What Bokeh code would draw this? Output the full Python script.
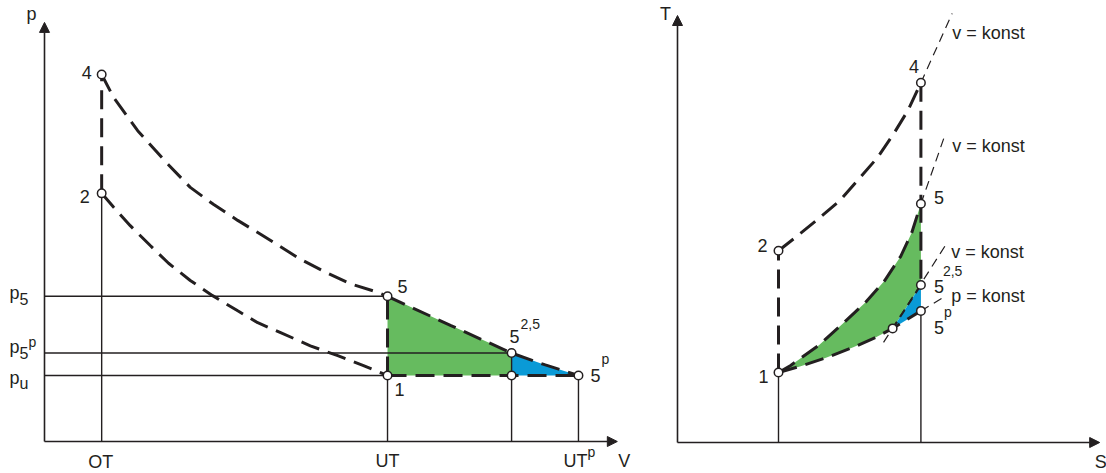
from bokeh.plotting import figure
from bokeh.layouts import row
from bokeh.models import Range1d, Arrow, NormalHead
from bokeh.core.properties import value
from bokeh.embed import file_html
from bokeh.resources import INLINE

INK = "#231f20"
GREEN = "#66bb5f"
BLUE = "#0a9ad6"
FONT = "Liberation Sans"

# ---------------- p-V diagram ----------------
# V in multiples of the clearance volume, p in multiples of the ambient pressure p_u
V_OT, V_UT, V_25, V_UTP = 1.0, 6.0, 8.17, 9.34
p4, p2, p5, p5p, pu = 5.56, 3.76, 2.20, 1.34, 1.0

# expansion 4 -> 5
exp_V = [1.0, 1.21, 1.63, 2.15, 2.55, 2.96, 3.38, 3.78, 4.13, 4.48, 4.95, 5.35, 5.83, 6.0]
exp_p = [5.56, 5.21, 4.71, 4.21, 3.85, 3.59, 3.35, 3.14, 2.95, 2.76, 2.55, 2.39, 2.26, 2.20]
# compression 1 -> 2 (listed from 2 to 1)
cmp_V = [1.0, 1.21, 1.50, 1.85, 2.17, 2.55, 2.94, 3.38, 3.73, 4.13, 4.65, 5.13, 5.58, 6.0]
cmp_p = [3.76, 3.55, 3.27, 2.97, 2.70, 2.44, 2.21, 1.98, 1.80, 1.65, 1.45, 1.30, 1.15, 1.0]
# continued expansion 5 -> 5^2,5 -> 5^p
ext_V = [6.0, 7.10, 8.17, 8.76, 9.34]
ext_p = [2.20, 1.76, 1.34, 1.16, 1.0]

V_axis_end, p_axis_end = 10.02, 6.35

# ---------------- T-S diagram ----------------
S1, S5 = 1.0, 2.41
T1, T2, T4, T5, T25, T5p = 1.0, 2.74, 5.14, 3.41, 2.25, 1.88
S_m, T_m = 2.13, 1.63

c24_S = [1.0, 1.15, 1.39, 1.61, 1.81, 1.98, 2.14, 2.28, 2.41]
c24_T = [2.74, 2.91, 3.19, 3.46, 3.79, 4.07, 4.41, 4.74, 5.14]
c15_S = [1.0, 1.12, 1.40, 1.63, 1.86, 2.05, 2.21, 2.32, 2.41]
c15_T = [1.0, 1.10, 1.39, 1.69, 2.00, 2.31, 2.66, 3.00, 3.41]
c1m_S = [1.0, 1.22, 1.47, 1.74, 1.96, 2.13]
c1m_T = [1.0, 1.09, 1.21, 1.36, 1.50, 1.63]

# guide lines v = konst / p = konst
guide_S = [[2.41, 2.72], [2.41, 2.65], [2.04, 2.65], [2.41, 2.63]]
guide_T = [[5.14, 6.13], [3.41, 4.40], [1.43, 2.81], [1.88, 2.07]]
guide_text = ["v = konst", "v = konst", "v = konst", "p = konst"]
guide_dx = [0, 7, 6, 8]
guide_dy = [20, 11, 6, -2]

S_axis_end, T_axis_end = 4.18, 6.10


def make_fig(width, x0, x1, y0, y1):
    f = figure(width=width, height=473, x_range=Range1d(x0, x1), y_range=Range1d(y0, y1),
               toolbar_location=None, output_backend="svg",
               x_axis_location=None, y_axis_location=None, min_border=0,
               outline_line_color=None, background_fill_color="white",
               border_fill_color="white")
    f.grid.visible = False
    return f


def put(f, x, y, txt, dx, dy, size="18px", align="left"):
    f.text(x=[x], y=[y], text=[txt], x_offset=dx, y_offset=dy,
           text_font=value(FONT), text_font_size=size, text_align=align,
           text_baseline="alphabetic", text_color=INK)


def axis_arrow(f, x1, y1):
    f.add_layout(Arrow(end=NormalHead(size=10, fill_color=INK, line_color=INK, line_width=1),
                       x_start=0, y_start=0, x_end=x1, y_end=y1,
                       line_color=INK, line_width=1.6))


BOLD = dict(line_color=INK, line_width=3, line_dash="19 9")
THIN = dict(line_color=INK, line_width=1.4)
SUP = "14px"

# ======== left: p-V ========
sx, sy = 57.17, 66.0
pv = make_fig(650, -44 / sx, (650 - 44) / sx, -(473 - 441) / sy, 441 / sy)

pv.patch(ext_V[:3] + [V_25, V_UT], ext_p[:3] + [pu, pu], fill_color=GREEN, line_color=None)
pv.patch(ext_V[2:] + [V_25], ext_p[2:] + [pu], fill_color=BLUE, line_color=None)

pv.multi_line(
    xs=[[V_OT, V_OT], [V_UT, V_UT], [V_25, V_25], [V_UTP, V_UTP],
        [0, V_UT], [0, V_25], [0, V_UT]],
    ys=[[0, p2], [0, pu], [0, p5p], [0, pu],
        [p5, p5], [p5p, p5p], [pu, pu]], **THIN)

axis_arrow(pv, 0, p_axis_end)
axis_arrow(pv, V_axis_end, 0)

pv.line(exp_V, exp_p, **BOLD)
pv.line(cmp_V, cmp_p, **BOLD)
pv.line(ext_V, ext_p, **BOLD)
pv.line([V_OT, V_OT], [p2, p4], **BOLD)
pv.line([V_UT, V_UT], [pu, p5], **BOLD)
pv.line([V_UT, V_UTP], [pu, pu], **BOLD)

pv.scatter([V_OT, V_OT, V_UT, V_UT, V_25, V_25, V_UTP], [p4, p2, p5, pu, p5p, pu, pu],
           size=8.5, marker="circle", fill_color="white", line_color=INK, line_width=1.5)

put(pv, V_OT, p4, "4", -15, -2, align="center")
put(pv, V_OT, p2, "2", -17, 3, align="center")
put(pv, V_UT, p5, "5", 15, -10, align="center")
put(pv, V_UT, pu, "1", 12, 14, align="center")
put(pv, V_25, p5p, "5", -2, -17)
put(pv, V_25, p5p, "2,5", 9, -29, size=SUP)
put(pv, V_UTP, pu, "5", 12, 0)
put(pv, V_UTP, pu, "p", 23, -17, size=SUP)
put(pv, V_OT, 0, "OT", -1, 20, align="center")
put(pv, V_UT, 0, "UT", 0, 19, align="center")
put(pv, V_UTP, 0, "UT", -15, 19)
put(pv, V_UTP, 0, "p", 9, 10, size=SUP)
put(pv, V_axis_end, 0, "V", 7, 19, align="center")
put(pv, 0, p_axis_end, "p", -13, -8, align="center")
put(pv, 0, p5, "p", -35, -3)
put(pv, 0, p5, "5", -25, 3, size="16px")
put(pv, 0, p5p, "p", -35, -6)
put(pv, 0, p5p, "5", -25, 0, size="16px")
put(pv, 0, p5p, "p", -16, -11, size=SUP)
put(pv, 0, pu, "p", -35, 2)
put(pv, 0, pu, "u", -25, 8, size="16px")

# ======== right: T-S ========
ss, st = 101.0, 70.0
ts = make_fig(456, -27 / ss, (456 - 27) / ss, -(473 - 442) / st, 442 / st)

ts.patch(c15_S + [S5, S_m] + c1m_S[::-1][1:], c15_T + [T25, T_m] + c1m_T[::-1][1:],
         fill_color=GREEN, line_color=None)
ts.patch([S_m, S5, S5], [T_m, T25, T5p], fill_color=BLUE, line_color=None)

ts.multi_line(xs=[[S1, S1], [S5, S5]], ys=[[0, T1], [0, T5p]], **THIN)

axis_arrow(ts, 0, T_axis_end)
axis_arrow(ts, S_axis_end, 0)

ts.multi_line(xs=guide_S, ys=guide_T, line_color=INK, line_width=1.2, line_dash="9 6")

ts.line([S1, S1], [T1, T2], **BOLD)
ts.line(c24_S, c24_T, **BOLD)
ts.line([S5, S5], [T4, T5], **BOLD)
ts.line([S5, S5], [T5, T25], **BOLD)
ts.line(c15_S, c15_T, **BOLD)
ts.line(c1m_S + [S5], c1m_T + [T5p], **BOLD)
ts.line([S_m, S5], [T_m, T25], line_color=INK, line_width=2, line_dash="8 6")

ts.scatter([S1, S1, S5, S5, S5, S5, S_m], [T1, T2, T4, T5, T25, T5p, T_m],
           size=8.5, marker="circle", fill_color="white", line_color=INK, line_width=1.5)

for gs, gt, txt, dx, dy in zip(guide_S, guide_T, guide_text, guide_dx, guide_dy):
    put(ts, gs[1], gt[1], txt, dx, dy)

put(ts, S1, T1, "1", -15, 4, align="center")
put(ts, S1, T2, "2", -16, -5, align="center")
put(ts, S5, T4, "4", -7, -16, align="center")
put(ts, S5, T5, "5", 13, -6)
put(ts, S5, T25, "5", 13, 1)
put(ts, S5, T25, "2,5", 22, -14, size=SUP)
put(ts, S5, T5p, "5", 13, 17)
put(ts, S5, T5p, "p", 23, 1, size=SUP)
put(ts, 0, T_axis_end, "T", -12, -2, align="center")
put(ts, S_axis_end, 0, "S", -5, 19)

layout = row(pv, ts)
open("out.html", "w").write(file_html(layout, INLINE))
